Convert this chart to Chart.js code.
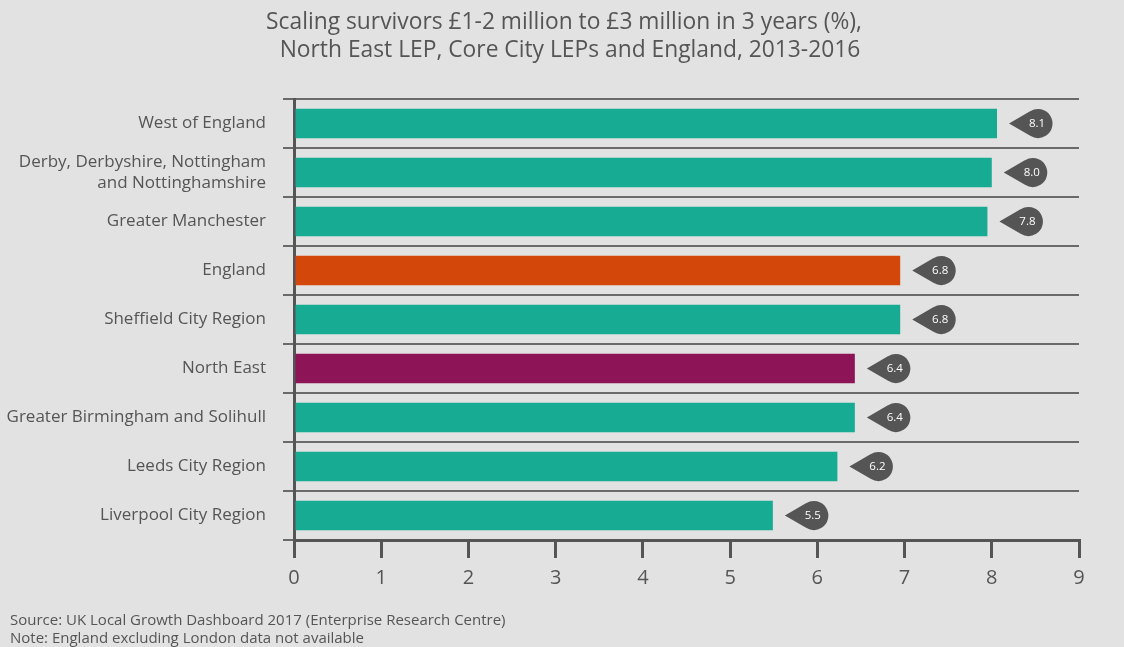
<!DOCTYPE html>
<html>
<head>
<meta charset="utf-8">
<script src="https://cdn.jsdelivr.net/npm/chart.js@4"></script>
<style>
  html, body { margin: 0; padding: 0; background: #e2e2e2; }
  #wrap { width: 1124px; height: 647px; position: relative; }
</style>
</head>
<body>
<div id="wrap"><canvas id="c"></canvas></div>
<script>
const categories = [
  'West of England',
  ['Derby, Derbyshire, Nottingham', 'and Nottinghamshire'],
  'Greater Manchester',
  'England',
  'Sheffield City Region',
  'North East',
  'Greater Birmingham and Solihull',
  'Leeds City Region',
  'Liverpool City Region'
];
// bar lengths as drawn, and the rounded labels printed on the markers
const values = [8.06, 8.0, 7.95, 6.95, 6.95, 6.43, 6.43, 6.23, 5.49];
const valueLabels = ['8.1', '8.0', '7.8', '6.8', '6.8', '6.4', '6.4', '6.2', '5.5'];
const barColors = ['#17ab94', '#17ab94', '#17ab94', '#d4470a', '#17ab94', '#8c1457', '#17ab94', '#17ab94', '#17ab94'];
const xTicks = [0, 1, 2, 3, 4, 5, 6, 7, 8, 9];

const titleLines = [
  'Scaling survivors \u00a31-2 million to \u00a33 million in 3 years (%),',
  'North East LEP, Core City LEPs and England, 2013-2016'
];
const footLines = [
  'Source: UK Local Growth Dashboard 2017 (Enterprise Research Centre)',
  'Note: England excluding London data not available'
];

const FONT = '"Open Sans", sans-serif';
const TXT = '#555';

const extras = {
  id: 'extras',
  afterDatasetsDraw(chart) {
    const ctx = chart.ctx;
    const meta = chart.getDatasetMeta(0);
    ctx.save();
    meta.data.forEach((bar, i) => {
      const tip = bar.x + 12;
      const cy = bar.y;
      const r = 14.5;
      const cx = tip + 29;
      ctx.fillStyle = '#555';
      ctx.beginPath();
      ctx.moveTo(tip, cy);
      ctx.lineTo(cx - r * 0.55, cy - r * 0.84);
      ctx.arc(cx, cy, r, -Math.PI * 0.68, Math.PI * 0.68);
      ctx.closePath();
      ctx.fill();
      ctx.fillStyle = '#fff';
      ctx.font = '11.5px ' + FONT;
      ctx.textAlign = 'center';
      ctx.textBaseline = 'middle';
      ctx.fillText(valueLabels[i], cx - 1, cy);
    });
    ctx.restore();
  },
  afterDraw(chart) {
    const ctx = chart.ctx;
    ctx.save();
    ctx.fillStyle = TXT;
    ctx.textAlign = 'center';
    ctx.textBaseline = 'middle';
    ctx.font = '22.8px ' + FONT;
    ctx.fillText(titleLines[0], 564, 23);
    ctx.fillText(titleLines[1], 570, 51);
    ctx.textAlign = 'left';
    ctx.font = '15px ' + FONT;
    ctx.fillText(footLines[0], 10, 621);
    ctx.fillText(footLines[1], 10, 639);
    ctx.restore();
  }
};

new Chart(document.getElementById('c'), {
  type: 'bar',
  data: {
    labels: categories,
    datasets: [{
      data: values,
      backgroundColor: barColors,
      borderWidth: 0,
      barPercentage: 0.6,
      categoryPercentage: 1
    }]
  },
  options: {
    indexAxis: 'y',
    responsive: true,
    maintainAspectRatio: false,
    animation: false,
    layout: { padding: { top: 99, right: 45, bottom: 57, left: 0 } },
    plugins: { legend: { display: false }, tooltip: { enabled: false } },
    scales: {
      y: {
        afterFit(s) { s.width = 294; },
        grid: { color: '#6a6a6a', lineWidth: 2, tickLength: 11, offset: true },
        border: { color: '#555', width: 3 },
        ticks: { color: TXT, font: { family: FONT, size: 17 }, padding: 17 }
      },
      x: {
        min: 0, max: 9,
        afterFit(s) { s.height = 50; },
        afterBuildTicks(s) { s.ticks = xTicks.map(v => ({ value: v })); },
        grid: { drawOnChartArea: false, color: '#555', lineWidth: 3, tickLength: 18 },
        border: { color: '#555', width: 3 },
        ticks: { color: TXT, font: { family: FONT, size: 20 }, padding: 8 }
      }
    }
  },
  plugins: [extras]
});
</script>
</body>
</html>
